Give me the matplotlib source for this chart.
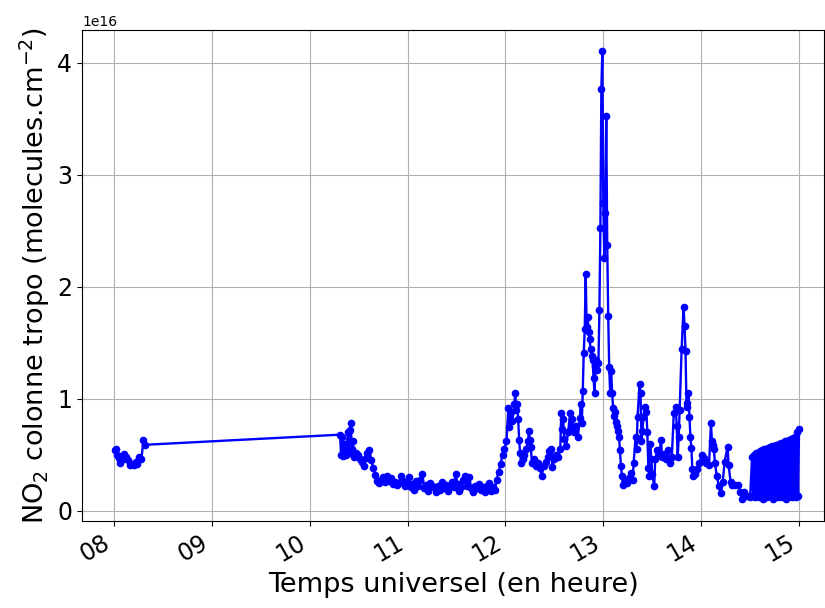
import matplotlib
matplotlib.use('Agg')
import matplotlib.pyplot as plt
import matplotlib.dates as mdates
from matplotlib.ticker import MultipleLocator
import numpy as np
import pandas as pd

# heures decimales (TU) et colonne troposphérique NO2 (en 1e16 molecules.cm-2)
heures_matin = [8.01, 8.02, 8.03, 8.05, 8.06, 8.07, 8.09, 8.10, 8.12, 8.14,
                8.16, 8.18, 8.20, 8.22, 8.24, 8.26, 8.28, 8.30, 8.32]
no2_matin = [0.54, 0.55, 0.50, 0.47, 0.43, 0.49, 0.46, 0.51, 0.48, 0.45,
             0.41, 0.42, 0.41, 0.44, 0.42, 0.48, 0.46, 0.63, 0.59]

heures_midi = [10.31, 10.32, 10.33, 10.34, 10.36, 10.37, 10.39, 10.40, 10.41, 10.42,
               10.43, 10.44, 10.45, 10.47, 10.49, 10.51, 10.53, 10.55, 10.57, 10.59,
               10.61, 10.63, 10.65, 10.67, 10.69, 10.71, 10.73, 10.75, 10.77, 10.79,
               10.81, 10.83, 10.85, 10.87, 10.89, 10.91, 10.93, 10.95, 10.97, 10.99,
               11.01, 11.03, 11.05, 11.07, 11.09, 11.11, 11.13, 11.15, 11.17, 11.19,
               11.21, 11.23, 11.25, 11.27, 11.29, 11.31, 11.33, 11.35, 11.37, 11.39,
               11.41, 11.43, 11.45, 11.47, 11.49, 11.51, 11.53, 11.55, 11.57, 11.59,
               11.61, 11.63, 11.65, 11.67, 11.69, 11.71, 11.73, 11.75, 11.77, 11.79,
               11.81, 11.83, 11.85, 11.87, 11.89, 11.91, 11.93, 11.95, 11.97, 11.99]
no2_midi = [0.68, 0.50, 0.66, 0.49, 0.60, 0.50, 0.70, 0.52, 0.72, 0.78,
            0.55, 0.62, 0.48, 0.52, 0.50, 0.46, 0.44, 0.40, 0.47, 0.52,
            0.54, 0.45, 0.38, 0.32, 0.27, 0.25, 0.28, 0.30, 0.26, 0.31,
            0.27, 0.29, 0.24, 0.26, 0.23, 0.25, 0.31, 0.27, 0.22, 0.26,
            0.30, 0.21, 0.24, 0.19, 0.27, 0.22, 0.28, 0.33, 0.20, 0.23,
            0.18, 0.25, 0.22, 0.21, 0.17, 0.22, 0.19, 0.26, 0.20, 0.23,
            0.18, 0.22, 0.26, 0.21, 0.33, 0.24, 0.18, 0.21, 0.28, 0.31,
            0.22, 0.30, 0.20, 0.17, 0.22, 0.20, 0.24, 0.19, 0.21, 0.17,
            0.22, 0.25, 0.18, 0.21, 0.19, 0.28, 0.35, 0.42, 0.50, 0.55]

heures_apm = [12.01, 12.03, 12.04, 12.06, 12.07, 12.09, 12.10, 12.11, 12.12, 12.13,
              12.14, 12.15, 12.16, 12.18, 12.19, 12.21, 12.23, 12.24, 12.25, 12.26,
              12.27, 12.29, 12.31, 12.33, 12.35, 12.37, 12.39, 12.41, 12.43, 12.45,
              12.47, 12.48, 12.50, 12.52, 12.54, 12.56, 12.57, 12.58, 12.59, 12.60,
              12.62, 12.64, 12.66, 12.67, 12.68, 12.70, 12.72, 12.74, 12.76, 12.77,
              12.78, 12.79, 12.80, 12.81, 12.82, 12.83, 12.84, 12.85, 12.86, 12.87,
              12.88, 12.89, 12.90, 12.91, 12.92, 12.93, 12.94, 12.95, 12.96, 12.97,
              12.98, 12.99, 13.00, 13.01, 13.02, 13.03, 13.04, 13.05, 13.06, 13.07,
              13.08, 13.09, 13.10, 13.11, 13.12, 13.13, 13.14, 13.15, 13.16, 13.17,
              13.18, 13.19, 13.20, 13.22, 13.24, 13.26, 13.28, 13.30, 13.31, 13.33,
              13.34, 13.35, 13.37, 13.38, 13.39, 13.40, 13.41, 13.43, 13.44, 13.45,
              13.46, 13.47, 13.48, 13.49, 13.50, 13.52, 13.53, 13.55, 13.57, 13.59,
              13.60, 13.62, 13.64, 13.66, 13.68, 13.70, 13.72, 13.74, 13.75, 13.76,
              13.77, 13.78, 13.80, 13.82, 13.83, 13.84, 13.85, 13.86, 13.87, 13.88,
              13.89, 13.90, 13.91, 13.92, 13.94, 13.96, 13.98, 14.01, 14.03, 14.05,
              14.08, 14.10, 14.11, 14.12, 14.13, 14.14, 14.16, 14.18, 14.20, 14.22,
              14.24, 14.27, 14.28, 14.30, 14.32, 14.35, 14.38, 14.40, 14.42, 14.44,
              14.47, 14.50, 14.52]
no2_apm = [0.62, 0.92, 0.75, 0.88, 0.80, 0.95, 1.05, 0.90, 0.95, 0.82,
           0.63, 0.52, 0.43, 0.46, 0.50, 0.55, 0.62, 0.71, 0.63, 0.57,
           0.43, 0.46, 0.40, 0.43, 0.38, 0.31, 0.40, 0.44, 0.48, 0.53,
           0.55, 0.39, 0.46, 0.50, 0.48, 0.55, 0.87, 0.73, 0.82, 0.64,
           0.58, 0.70, 0.87, 0.73, 0.82, 0.70, 0.76, 0.66, 0.83, 0.95,
           0.78, 1.07, 1.41, 1.62, 2.11, 1.64, 1.73, 1.60, 1.53, 1.44,
           1.38, 1.35, 1.19, 1.05, 1.29, 1.35, 1.26, 1.32, 1.79, 2.52,
           3.76, 4.10, 2.75, 2.26, 2.66, 3.52, 2.37, 1.74, 1.28, 1.05,
           1.25, 1.05, 0.92, 0.85, 0.88, 0.79, 0.76, 0.71, 0.66, 0.54,
           0.40, 0.31, 0.23, 0.27, 0.25, 0.29, 0.34, 0.28, 0.43, 0.66,
           0.55, 0.84, 1.13, 1.05, 0.62, 0.71, 0.84, 0.93, 0.88, 0.70,
           0.38, 0.31, 0.60, 0.46, 0.33, 0.22, 0.46, 0.54, 0.50, 0.63,
           0.48, 0.51, 0.46, 0.54, 0.43, 0.48, 0.87, 0.93, 0.76, 0.48,
           0.66, 0.90, 1.44, 1.82, 1.65, 1.43, 0.93, 0.96, 1.05, 0.84,
           0.66, 0.56, 0.37, 0.31, 0.33, 0.37, 0.43, 0.50, 0.47, 0.43,
           0.41, 0.78, 0.62, 0.59, 0.55, 0.43, 0.31, 0.22, 0.16, 0.26,
           0.44, 0.57, 0.41, 0.26, 0.23, 0.23, 0.23, 0.17, 0.11, 0.17,
           0.13, 0.12, 0.48]

heures_fin = [14.53, 14.54, 14.55, 14.56, 14.57, 14.58, 14.59, 14.60, 14.61, 14.62,
              14.63, 14.64, 14.65, 14.66, 14.67, 14.68, 14.69, 14.70, 14.71, 14.72,
              14.73, 14.74, 14.75, 14.76, 14.77, 14.78, 14.79, 14.80, 14.81, 14.82,
              14.83, 14.84, 14.85, 14.86, 14.87, 14.88, 14.89, 14.90, 14.91, 14.92,
              14.93, 14.94, 14.95, 14.96, 14.97, 14.98, 14.99, 15.00]
no2_fin = [0.13, 0.50, 0.12, 0.52, 0.14, 0.51, 0.12, 0.53, 0.13, 0.54,
           0.11, 0.55, 0.13, 0.55, 0.12, 0.56, 0.14, 0.57, 0.13, 0.58,
           0.11, 0.58, 0.12, 0.59, 0.13, 0.59, 0.12, 0.60, 0.14, 0.61,
           0.12, 0.61, 0.13, 0.62, 0.11, 0.62, 0.12, 0.63, 0.13, 0.64,
           0.12, 0.65, 0.14, 0.66, 0.12, 0.70, 0.13, 0.73]

heures = np.array(heures_matin + heures_midi + heures_apm + heures_fin)
no2 = np.array(no2_matin + no2_midi + no2_apm + no2_fin) * 1e16

jour = pd.Timestamp('2019-06-01')
temps = jour + pd.to_timedelta(heures, unit='h')

fig = plt.figure(figsize=(8.25, 6.08), dpi=100)
ax = fig.add_axes([82/825, 87/608, 742/825, 491/608])

ax.plot(temps, no2, 'b-', marker='o', markersize=4.5, linewidth=1.7)

ax.set_xlim(jour + pd.Timedelta(hours=7.673), jour + pd.Timedelta(hours=15.255))
ax.set_ylim(-0.09e16, 4.29e16)
ax.yaxis.set_major_locator(MultipleLocator(1e16))
ax.xaxis.set_major_locator(mdates.HourLocator())
ax.xaxis.set_major_formatter(mdates.DateFormatter('%H'))
ax.tick_params(labelsize=17)
for lab in ax.get_xticklabels():
    lab.set_rotation(30)
    lab.set_ha('right')
ax.grid(True)

ax.set_xlabel('Temps universel (en heure)', fontsize=19.5)
ax.set_ylabel('NO$_2$ colonne tropo (molecules.cm$^{-2}$)', fontsize=19.5)

fig.savefig('out.png', dpi=100)
